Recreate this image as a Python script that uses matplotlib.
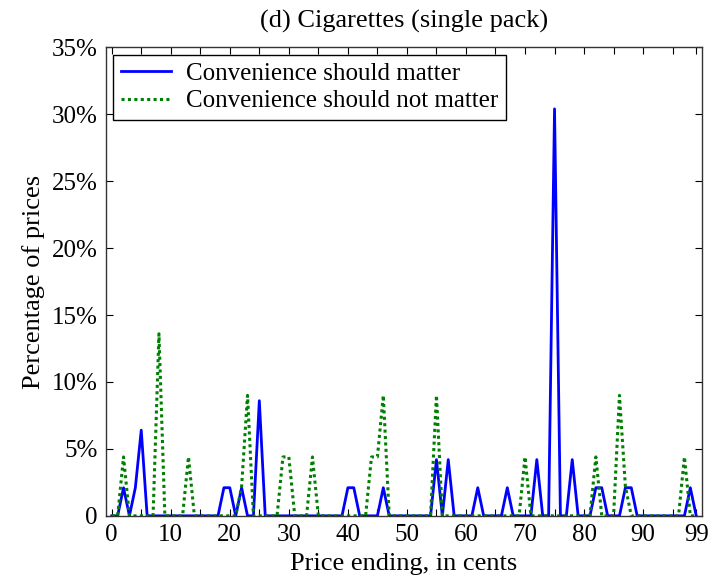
import numpy as np
import matplotlib
matplotlib.use("Agg")
import matplotlib.pyplot as plt
from matplotlib.ticker import FixedLocator, FuncFormatter

plt.rcParams['font.family'] = ['Liberation Serif', 'DejaVu Serif']

# price endings 0..99 cents
cents = np.arange(100)

# convenience should matter (non-zero endings, % of prices)
matter_cents = [2, 4, 5, 19, 20, 22, 25, 40, 41, 46, 55, 57, 62, 67, 72, 75, 78, 82, 83, 87, 88, 98]
matter_pct = [2.1, 2.1, 6.4, 2.1, 2.1, 2.1, 8.6, 2.1, 2.1, 2.1, 4.2, 4.2, 2.1, 2.1, 4.2, 30.4, 4.2, 2.1, 2.1, 2.1, 2.1, 2.1]

# convenience should not matter
notmatter_cents = [2, 8, 13, 22, 23, 29, 30, 34, 44, 45, 46, 55, 70, 82, 86, 87, 97]
notmatter_pct = [4.4, 13.6, 4.4, 2.2, 9.0, 4.4, 4.4, 4.4, 4.4, 4.4, 9.0, 9.0, 4.4, 4.4, 9.0, 2.2, 4.4]

xtick_major = [0, 10, 20, 30, 40, 50, 60, 70, 80, 90, 99]
xtick_minor = [5, 15, 25, 35, 45, 55, 65, 75, 85, 95]
yticks = [0, 5, 10, 15, 20, 25, 30, 35]

y_matter = np.zeros(len(cents))
y_matter[matter_cents] = matter_pct
y_notmatter = np.zeros(len(cents))
y_notmatter[notmatter_cents] = notmatter_pct

fig = plt.figure(figsize=(7.15, 5.77), dpi=100)
ax = fig.add_axes([0.148, 0.106, 0.834, 0.812])

ax.plot(cents, y_matter, color='#0000ff', lw=2.0, label='Convenience should matter')
ax.plot(cents, y_notmatter, color='#008000', lw=2.2, linestyle=(0, (1, 1.1)),
        label='Convenience should not matter')

ax.set_xlim(-1, 100)
ax.set_ylim(0, 35)
ax.xaxis.set_major_locator(FixedLocator(xtick_major))
ax.xaxis.set_minor_locator(FixedLocator(xtick_minor))
ax.yaxis.set_major_locator(FixedLocator(yticks))
ax.yaxis.set_major_formatter(FuncFormatter(lambda v, p: '0' if v == 0 else '%d%%' % v))

ax.tick_params(which='both', direction='in', top=True, right=True, length=5,
               width=0.8, labelsize=18, pad=6)
for s in ax.spines.values():
    s.set_linewidth(1.0)
    s.set_color('#333333')

ax.set_title('(d) Cigarettes (single pack)', fontsize=19, pad=14)
ax.set_xlabel('Price ending, in cents', fontsize=19, labelpad=5)
ax.set_ylabel('Percentage of prices', fontsize=19, labelpad=5)

leg = ax.legend(loc='upper left', fontsize=18, frameon=True, fancybox=False,
                framealpha=1, edgecolor='black', handlelength=2.0,
                borderpad=0.3, labelspacing=0.2, handletextpad=0.6,
                borderaxespad=0.3)
leg.get_frame().set_linewidth(1.0)

fig.savefig('out.png', dpi=100)
